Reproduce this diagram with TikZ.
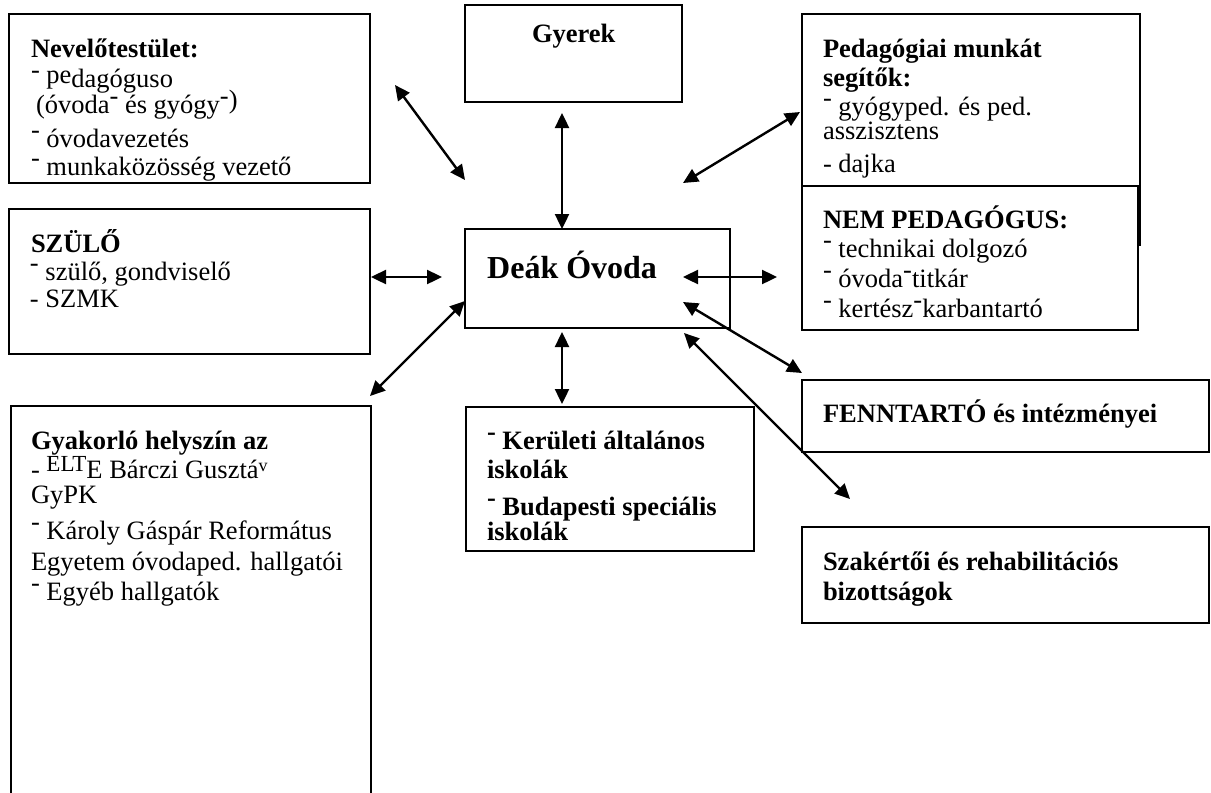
\documentclass[tikz,border=0pt]{standalone}
\usepackage{fontspec}
\setmainfont{Liberation Serif}
\usetikzlibrary{arrows.meta}
\newcommand\hd{\raisebox{0.32em}{-}}
\begin{document}
\begin{tikzpicture}[x=1pt,y=-1pt,
  box/.style={draw, line width=2pt, fill=white, anchor=north west, inner sep=0pt, outer sep=0pt},
  t/.style={anchor=base west, inner sep=0pt, outer sep=0pt, font=\fontsize{26.5}{30}\selectfont},
  tb/.style={t, font=\fontsize{26.5}{30}\selectfont\bfseries},
  dbl/.style={{Triangle[length=15pt,width=14pt]}-{Triangle[length=15pt,width=14pt]}, line width=2.4pt}]
\useasboundingbox (0,0) rectangle (1211,793);
% boxes
\node[box, minimum width=361pt, minimum height=169pt] (nev) at (9,14) {};
\node[box, minimum width=217pt, minimum height=97pt] (gyer) at (465,5) {};
\node[box, minimum width=338pt, minimum height=231pt] (ped) at (802,14) {};
\node[box, minimum width=336pt, minimum height=144pt] (nem) at (802,186) {};
\node[box, minimum width=361pt, minimum height=145pt] (szulo) at (9,209) {};
\node[box, minimum width=360pt, minimum height=400pt] (gyak) at (11,406) {};
\node[box, minimum width=265pt, minimum height=99pt] (deak) at (465,229) {};
\node[box, minimum width=288pt, minimum height=144pt] (ker) at (466,407) {};
\node[box, minimum width=407pt, minimum height=72pt] (fenn) at (802,380) {};
\node[box, minimum width=407pt, minimum height=96pt] (szak) at (802,527) {};
% texts
\node[tb] (nev1) at (31,57) {Nevelőtestület:};
\node[t] (nev2) at (31,87) {\hd{} \raisebox{4pt}{pe}dagóguso};
\node[t] (nev3) at (36,113) {(óvoda\hd{} és gyógy\hd\raisebox{5pt}{)}};
\node[t] (nev4) at (31,147) {\hd{} óvodavezetés};
\node[t] (nev5) at (31,175) {\hd{} munkaközösség vezető};
\node[tb] (gyer1) at (532,42) {Gyerek};
\node[tb] (ped1) at (823,57) {Pedagógiai munkát};
\node[tb] (ped2) at (823,86) {segítők:};
\node[t] (ped3) at (823,115) {\hd{} gyógyped. és ped.};
\node[t] (ped4) at (823,139) {asszisztens};
\node[t] (ped5) at (823,172) {- dajka};
\node[tb] (nem1) at (823,228) {NEM PEDAGÓGUS:};
\node[t] (nem2) at (823,257) {\hd{} technikai dolgozó};
\node[t] (nem3) at (823,287) {\hd{} óvoda\hd{}titkár};
\node[t] (nem4) at (823,317) {\hd{} kertész\hd{}karbantartó};
\node[tb] (sz1) at (31,252) {SZÜLŐ};
\node[t] (sz2) at (30,280) {\hd{} szülő, gondviselő};
\node[t] (sz3) at (30,307) {- SZMK};
\node[anchor=base west, inner sep=0pt, font=\fontsize{32}{36}\selectfont\bfseries] (deak1) at (487,278) {Deák Óvoda};
\node[tb] (gy1) at (31,449) {Gyakorló helyszín az};
\node[t] (gy2) at (31,478) {- \raisebox{7pt}{\fontsize{23}{26}\selectfont ELT}E Bárczi Gusztá\raisebox{7pt}{\fontsize{18}{20}\selectfont v}};
\node[t] (gy3) at (31,503) {GyPK};
\node[t] (gy4) at (31,539) {\hd{} Károly Gáspár Református};
\node[t] (gy5) at (31,570) {Egyetem óvodaped. hallgatói};
\node[t] (gy6) at (31,600) {\hd{} Egyéb hallgatók};
\node[tb] (k1) at (487,449) {\hd{} Kerületi általános};
\node[tb] (k2) at (487,478) {iskolák};
\node[tb] (k3) at (487,515) {\hd{} Budapesti speciális};
\node[tb] (k4) at (487,540) {iskolák};
\node[tb] (f1) at (823,422) {FENNTARTÓ és intézményei};
\node[tb] (s1) at (823,570) {Szakértői és rehabilitációs};
\node[tb] (s2) at (823,600) {bizottságok};
% connector ends
\coordinate (a1s) at (395,85);  \coordinate (a1e) at (465,180);
\coordinate (a2s) at (562,113); \coordinate (a2e) at (562,229);
\coordinate (a3s) at (683,183); \coordinate (a3e) at (800,112);
\coordinate (a4s) at (371,277); \coordinate (a4e) at (442,277);
\coordinate (a5s) at (683,277); \coordinate (a5e) at (777,277);
\coordinate (a6s) at (370,396); \coordinate (a6e) at (465,301);
\coordinate (a7s) at (562,332); \coordinate (a7e) at (562,404);
\coordinate (a8s) at (683,302); \coordinate (a8e) at (802,373);
\coordinate (a9s) at (684,333); \coordinate (a9e) at (850,499);
\foreach \i in {1,...,9} {\draw[dbl] (a\i s) -- (a\i e);}
\end{tikzpicture}
\end{document}
